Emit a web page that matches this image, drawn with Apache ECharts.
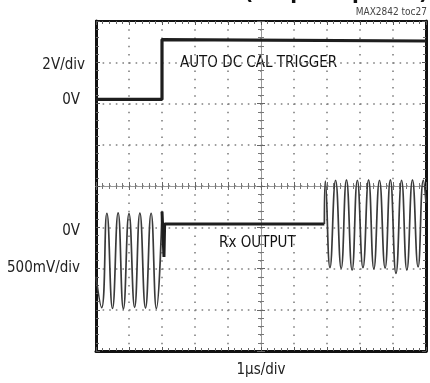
<!DOCTYPE html>
<html>
<head>
<meta charset="utf-8">
<script src="https://cdn.jsdelivr.net/npm/echarts@6/dist/echarts.min.js"></script>
<style>html,body{margin:0;padding:0;background:#fff;}#c{width:430px;height:383px;}</style>
</head>
<body>
<div id="c"></div>
<script>
// Time axis: 0..10 us (1 us/div), vertical graticule: 8 divisions
const timeRange = [0, 10];
const divRange = [-4, 4];
// Channel 1: AUTO DC CAL TRIGGER (volts, 2V/div)
const ch1Time = [0, 2.0, 2.0, 2.03, 10];
const ch1Volt = [0, 0, 2.9, 2.85, 2.83];
// Channel 2: Rx OUTPUT (mV, 500mV/div) – burst before cal
const ch2aTime = [0, 0.17, 0.33, 0.5, 0.67, 0.83, 1.0, 1.17, 1.33, 1.5, 1.67, 1.83, 2.0];
const ch2aMv   = [-600, -975, 170, -985, 175, -990, 165, -970, 172, -980, 170, -985, 190];
// settled after cal
const ch2bTime = [2.0, 2.06, 2.08, 6.92];
const ch2bMv   = [190, -360, 40, 40];
// burst after cal
const ch2cTime = [6.92, 6.95, 7.09, 7.26, 7.43, 7.59, 7.76, 7.92, 8.09, 8.26, 8.42, 8.59, 8.76, 8.92, 9.09, 9.26, 9.42, 9.59, 9.76, 9.92, 10];
const ch2cMv   = [40, 560, -490, 570, -500, 575, -520, 570, -490, 575, -505, 570, -495, 575, -560, 570, -520, 575, -480, 570, 300];

const zip = (a, b) => a.map((t, i) => [t, b[i]]);
const FONT = "'Liberation Sans Narrow','DejaVu Sans Condensed','Noto Sans',sans-serif";
const dotCol = '#808080';

const chart = echarts.init(document.getElementById('c'), null, {renderer: 'canvas'});
const hiddenLabel = {show: false};
const borderAxisX = (pos, w) => ({
  type: 'value', min: timeRange[0], max: timeRange[1], interval: 1, position: pos,
  axisLine: {show: true, onZero: false, lineStyle: {color: '#111', width: w}},
  axisTick: {show: true, inside: true, length: 4, lineStyle: {color: '#555'}},
  minorTick: {show: true, splitNumber: 5, length: 3, lineStyle: {color: '#666'}},
  axisLabel: hiddenLabel, splitLine: {show: false}
});
const borderAxisY = (pos, w) => ({
  type: 'value', min: divRange[0], max: divRange[1], interval: 1, position: pos,
  axisLine: {show: true, onZero: false, lineStyle: {color: '#111', width: w}},
  axisTick: {show: true, inside: true, length: 4, lineStyle: {color: '#555'}},
  minorTick: {show: true, splitNumber: 5, length: 3, lineStyle: {color: '#666'}},
  axisLabel: hiddenLabel, splitLine: {show: false}
});
const centerX = (inside) => ({
  type: 'value', min: timeRange[0], max: timeRange[1], interval: 1, position: 'bottom',
  axisLine: {show: true, onZero: true, onZeroAxisIndex: 0, lineStyle: {color: '#999', width: 1}},
  axisTick: {show: true, inside: inside, length: 4, lineStyle: {color: '#666'}},
  minorTick: {show: true, splitNumber: 5, length: 3, lineStyle: {color: '#777'}},
  axisLabel: hiddenLabel, splitLine: {show: false}
});
const centerY = (inside) => ({
  type: 'value', min: divRange[0], max: divRange[1], interval: 1, position: 'left',
  axisLine: {show: true, onZero: true, onZeroAxisIndex: 2, lineStyle: {color: '#999', width: 1}},
  axisTick: {show: true, inside: inside, length: 4, lineStyle: {color: '#666'}},
  minorTick: {show: true, splitNumber: 5, length: 3, lineStyle: {color: '#777'}},
  axisLabel: hiddenLabel, splitLine: {show: false}
});

const xb = borderAxisX('bottom', 3);
xb.splitLine = {show: true, lineStyle: {color: dotCol, width: 1.6, type: [1.6, 6.65]}};
const yl = borderAxisY('left', 3);
yl.splitLine = {show: true, lineStyle: {color: dotCol, width: 1.6, type: [1.6, 5.0]}};

const text = (x, y, s, opt) => Object.assign({
  type: 'text', x: x, y: y,
  style: Object.assign({text: s, font: '15px ' + FONT, fill: '#222', align: 'right', verticalAlign: 'middle'}, opt || {})
});

chart.setOption({
  animation: false,
  backgroundColor: '#fff',
  grid: {left: 96, top: 21, width: 330, height: 330, outerBoundsMode: 'none', containLabel: false},
  xAxis: [
    xb,
    borderAxisX('top', 2),
    {type: 'value', min: -5, max: 5, show: false},
    centerX(false),
    centerX(true)
  ],
  yAxis: [
    yl,
    borderAxisY('right', 3),
    centerY(false),
    centerY(true),
    {type: 'value', min: -12.2, max: 3.8, show: false},
    {type: 'value', min: -1500, max: 2500, show: false}
  ],
  series: [
    {type: 'line', xAxisIndex: 0, yAxisIndex: 4, data: zip(ch1Time, ch1Volt), symbol: 'none',
     lineStyle: {color: '#1e1e1e', width: 3.2}, z: 5},
    {type: 'line', xAxisIndex: 0, yAxisIndex: 5, data: zip(ch2aTime, ch2aMv), symbol: 'none', smooth: 0.5,
     lineStyle: {color: '#3a3a3a', width: 1.7}, z: 5},
    {type: 'line', xAxisIndex: 0, yAxisIndex: 5, data: zip(ch2bTime, ch2bMv), symbol: 'none',
     lineStyle: {color: '#1e1e1e', width: 3}, z: 5},
    {type: 'line', xAxisIndex: 0, yAxisIndex: 5, data: zip(ch2cTime, ch2cMv), symbol: 'none', smooth: 0.5,
     lineStyle: {color: '#3a3a3a', width: 1.7}, z: 5}
  ],
  graphic: [
    text(428, -7, 'DC OFFSET CANCELLATION (Step Response)', {font: 'bold 22px ' + FONT, fill: '#111'}),
    text(427, 12, 'MAX2842 toc27', {font: '10px ' + FONT, fill: '#444'}),
    text(85, 65, '2V/div'),
    text(80, 100, '0V'),
    text(80, 231, '0V'),
    text(80, 268, '500mV/div'),
    text(180, 63, 'AUTO DC CAL TRIGGER', {align: 'left', fill: '#111'}),
    text(219, 243, 'Rx OUTPUT', {align: 'left', fill: '#111'}),
    text(261, 370, '1µs/div', {align: 'center'})
  ]
});
</script>
</body>
</html>
